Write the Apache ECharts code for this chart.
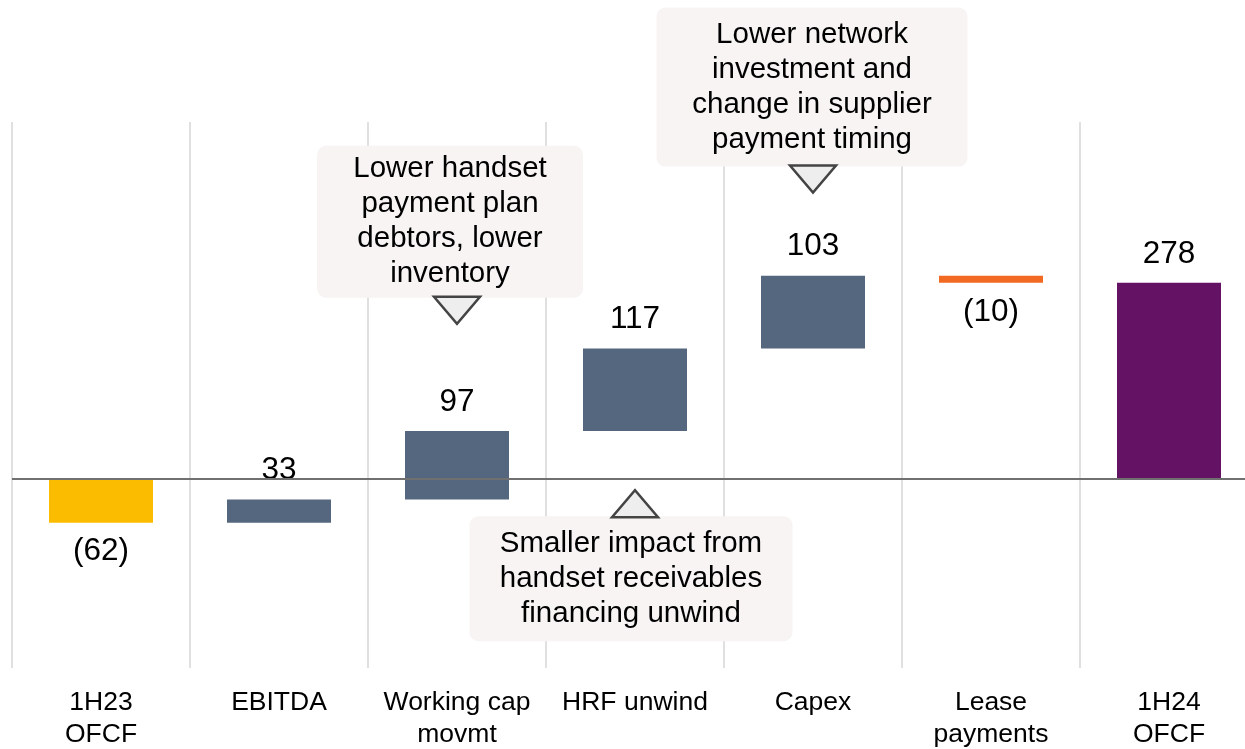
<!DOCTYPE html>
<html>
<head>
<meta charset="utf-8">
<script src="https://cdn.jsdelivr.net/npm/echarts@6/dist/echarts.min.js"></script>
<style>
  html, body { margin: 0; padding: 0; background: #fff; overflow: hidden; }
  #root { width: 1245px; height: 749px; }
</style>
</head>
<body>
<div id="root"></div>
<script>
// data
const categories = ['1H23\nOFCF', 'EBITDA', 'Working cap\nmovmt', 'HRF unwind', 'Capex', 'Lease\npayments', '1H24\nOFCF']
const values = [-62, 33, 97, 117, 103, -10, 278]
const isTotal = [true, false, false, false, false, false, true]

const notes = [
  { cat: 2, text: 'Lower handset\npayment plan\ndebtors, lower\ninventory', tip: 220, dir: 'down' },
  { cat: 4, text: 'Lower network\ninvestment and\nchange in supplier\npayment timing', tip: 406, dir: 'down' },
  { cat: 3, text: 'Smaller impact from\nhandset receivables\nfinancing unwind', tip: -16, dir: 'up' }
]

const barColors = ['#FBBC00', '#55677F', '#55677F', '#55677F', '#55677F', '#F26A22', '#641263']
const FONT = '"Liberation Sans", Arial, sans-serif'

// waterfall: transparent base + visible segment
let running = 0
const base = [], visible = []
values.forEach((v, i) => {
  let start = isTotal[i] ? 0 : running
  let end = isTotal[i] ? v : running + v
  running = end
  base.push(Math.min(start, end))
  visible.push(Math.abs(end - start))
})

const fmt = v => v < 0 ? '(' + Math.abs(v) + ')' : String(v)

const chart = echarts.init(document.getElementById('root'))
chart.setOption({
  animation: false,
  grid: { left: 12, right: -13, top: 122, bottom: 81, outerBoundsMode: 'none', containLabel: false },
  xAxis: {
    type: 'category',
    data: categories,
    axisLine: { show: false },
    axisTick: { show: false },
    axisLabel: { fontFamily: FONT, fontSize: 26.5, color: '#000', lineHeight: 32, margin: 19, interval: 0 },
    splitLine: { show: true, interval: 0, lineStyle: { color: '#e0e0e0', width: 2 } }
  },
  yAxis: {
    type: 'value', min: -268, max: 506,
    show: false, splitLine: { show: false }
  },
  series: [
    {
      type: 'bar', stack: 'wf', stackStrategy: 'all',
      data: base, barWidth: 104,
      itemStyle: { color: 'transparent' },
      silent: true
    },
    {
      type: 'bar', stack: 'wf', stackStrategy: 'all',
      barWidth: 104,
      data: visible.map((v, i) => ({
        value: v,
        itemStyle: { color: barColors[i] },
        label: { position: values[i] < 0 ? 'bottom' : 'top' }
      })),
      label: {
        show: true, distance: 13, fontFamily: FONT, fontSize: 31.5, color: '#000',
        formatter: p => fmt(values[p.dataIndex])
      },
      markLine: {
        silent: true, symbol: 'none', label: { show: false },
        lineStyle: { color: '#707070', width: 2, type: 'solid' },
        data: [{ yAxis: 0 }]
      },
      z: 3
    }
  ]
})

// callout boxes anchored to category positions
const boxSizes = [[266, 152, -7], [311, 159, -1], [323, 125, -4]]
const graphics = []
notes.forEach((n, k) => {
  const [tx, ty] = chart.convertToPixel({ gridIndex: 0 }, [n.cat, n.tip])
  const [bw, bh, dx] = boxSizes[k]
  const triW = 46, triH = 27
  let boxY, triPts
  if (n.dir === 'down') {
    boxY = ty - triH - bh + 1
    triPts = [[tx - triW / 2, ty - triH], [tx + triW / 2, ty - triH], [tx, ty]]
  } else {
    boxY = ty + triH - 1
    triPts = [[tx - triW / 2, ty + triH], [tx + triW / 2, ty + triH], [tx, ty]]
  }
  const bx = tx + dx - bw / 2
  graphics.push({
    type: 'rect', z: 10,
    shape: { x: bx, y: boxY, width: bw, height: bh, r: 9 },
    style: { fill: '#F7F4F3' }
  })
  graphics.push({
    type: 'polygon', z: 11,
    shape: { points: triPts },
    style: { fill: '#EEEEEE', stroke: '#444', lineWidth: 2.5 }
  })
  graphics.push({
    type: 'text', z: 12,
    x: bx + bw / 2, y: boxY + bh / 2,
    style: {
      text: n.text, fontFamily: FONT, fontSize: 29.5, lineHeight: 35,
      fill: '#000', align: 'center', verticalAlign: 'middle'
    }
  })
})
chart.setOption({ graphic: graphics })
</script>
</body>
</html>
